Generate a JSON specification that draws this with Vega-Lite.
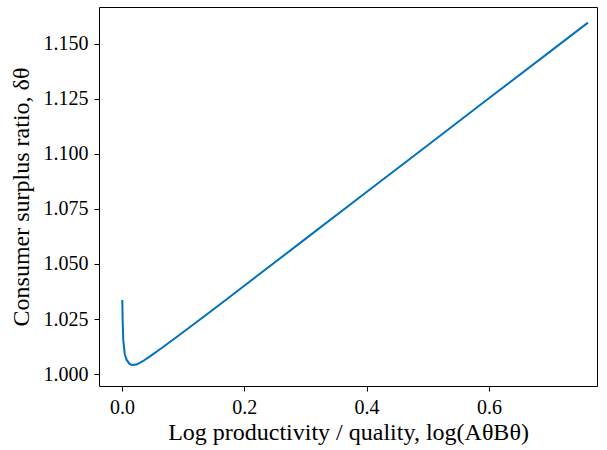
{
  "$schema": "https://vega.github.io/schema/vega-lite/v6.json",
  "width": 498,
  "height": 379,
  "autosize": "none",
  "padding": {"left": 99, "top": 7, "right": 10, "bottom": 64},
  "background": "white",
  "config": {
    "view": {"stroke": "black", "strokeWidth": 1},
    "font": "Liberation Serif",
    "axis": {
      "grid": false,
      "domain": false,
      "tickColor": "black",
      "tickSize": 5,
      "labelPadding": 6,
      "labelColor": "black",
      "titleColor": "black",
      "labelFont": "Liberation Serif",
      "titleFont": "Liberation Serif",
      "labelFontSize": 20,
      "titleFontSize": 24,
      "titleFontWeight": "normal"
    }
  },
  "data": {
    "values": [
      {"x": 0.0005, "y": 1.0336},
      {"x": 0.0012, "y": 1.0230},
      {"x": 0.0021, "y": 1.0155},
      {"x": 0.0045, "y": 1.0090},
      {"x": 0.0077, "y": 1.0064},
      {"x": 0.0120, "y": 1.0047},
      {"x": 0.0159, "y": 1.0041},
      {"x": 0.0240, "y": 1.0043},
      {"x": 0.0340, "y": 1.0058},
      {"x": 0.0458, "y": 1.0080},
      {"x": 0.0650, "y": 1.0118},
      {"x": 0.0894, "y": 1.0168},
      {"x": 0.1200, "y": 1.0232},
      {"x": 0.1600, "y": 1.0316},
      {"x": 0.2000, "y": 1.0401},
      {"x": 0.3000, "y": 1.0614},
      {"x": 0.4000, "y": 1.0827},
      {"x": 0.5000, "y": 1.1040},
      {"x": 0.6000, "y": 1.1253},
      {"x": 0.7000, "y": 1.1465},
      {"x": 0.7620, "y": 1.1597}
    ]
  },
  "mark": {"type": "line", "color": "#0072BD", "strokeWidth": 2},
  "encoding": {
    "x": {
      "field": "x",
      "type": "quantitative",
      "scale": {"domain": [-0.0376, 0.7768], "nice": false, "zero": false},
      "axis": {"values": [0, 0.2, 0.4, 0.6], "format": ".1f", "title": "Log productivity / quality, log(AθBθ)", "titlePadding": 3}
    },
    "y": {
      "field": "y",
      "type": "quantitative",
      "scale": {"domain": [0.99455, 1.1668], "nice": false, "zero": false},
      "axis": {"values": [1.0, 1.025, 1.05, 1.075, 1.1, 1.125, 1.15], "format": ".3f", "title": "Consumer surplus ratio, δθ", "titlePadding": 10}
    }
  }
}
